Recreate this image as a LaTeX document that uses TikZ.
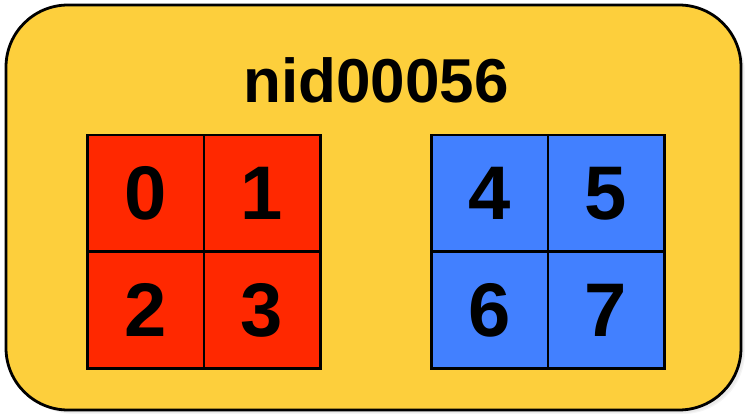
\documentclass[tikz,border=0pt]{standalone}
\usepackage{fontspec}
\setmainfont{Liberation Sans}
\usetikzlibrary{positioning}

\definecolor{nodeyellow}{RGB}{253,207,60}
\definecolor{rankred}{RGB}{255,40,0}
\definecolor{rankblue}{RGB}{66,128,255}
\tikzset{
  cell/.style={draw,line width=2.5pt,minimum size=116.5pt,inner sep=0pt,
    font=\fontsize{76}{76}\selectfont\bfseries},
  nodebox/.style={draw,line width=2.8pt,fill=nodeyellow,rounded corners=62pt},
}

\begin{document}
\begin{tikzpicture}[x=1pt,y=-1pt]
  \useasboundingbox (0,0) rectangle (745,414);
  % soft shadow
  \fill[black,opacity=0.04,rounded corners=62pt] (12,11) rectangle (745,414);
  \fill[black,opacity=0.04,rounded corners=62pt] (10,9) rectangle (744,413);
  \draw[nodebox] (6,5) rectangle (741,410);
  \node[font=\fontsize{62}{62}\selectfont\bfseries] (title) at (376,80) {nid00056};
  % red group
  \foreach \n/\x/\y in {0/145.5/193.5,1/262/193.5,2/145.5/310,3/262/310}
    \node[cell,fill=rankred] (c\n) at (\x,\y) {\raisebox{-3pt}{\n}};
  % blue group
  \foreach \n/\x/\y in {4/489.5/193.5,5/606/193.5,6/489.5/310,7/606/310}
    \node[cell,fill=rankblue] (c\n) at (\x,\y) {\raisebox{-3pt}{\n}};
\end{tikzpicture}
\end{document}
